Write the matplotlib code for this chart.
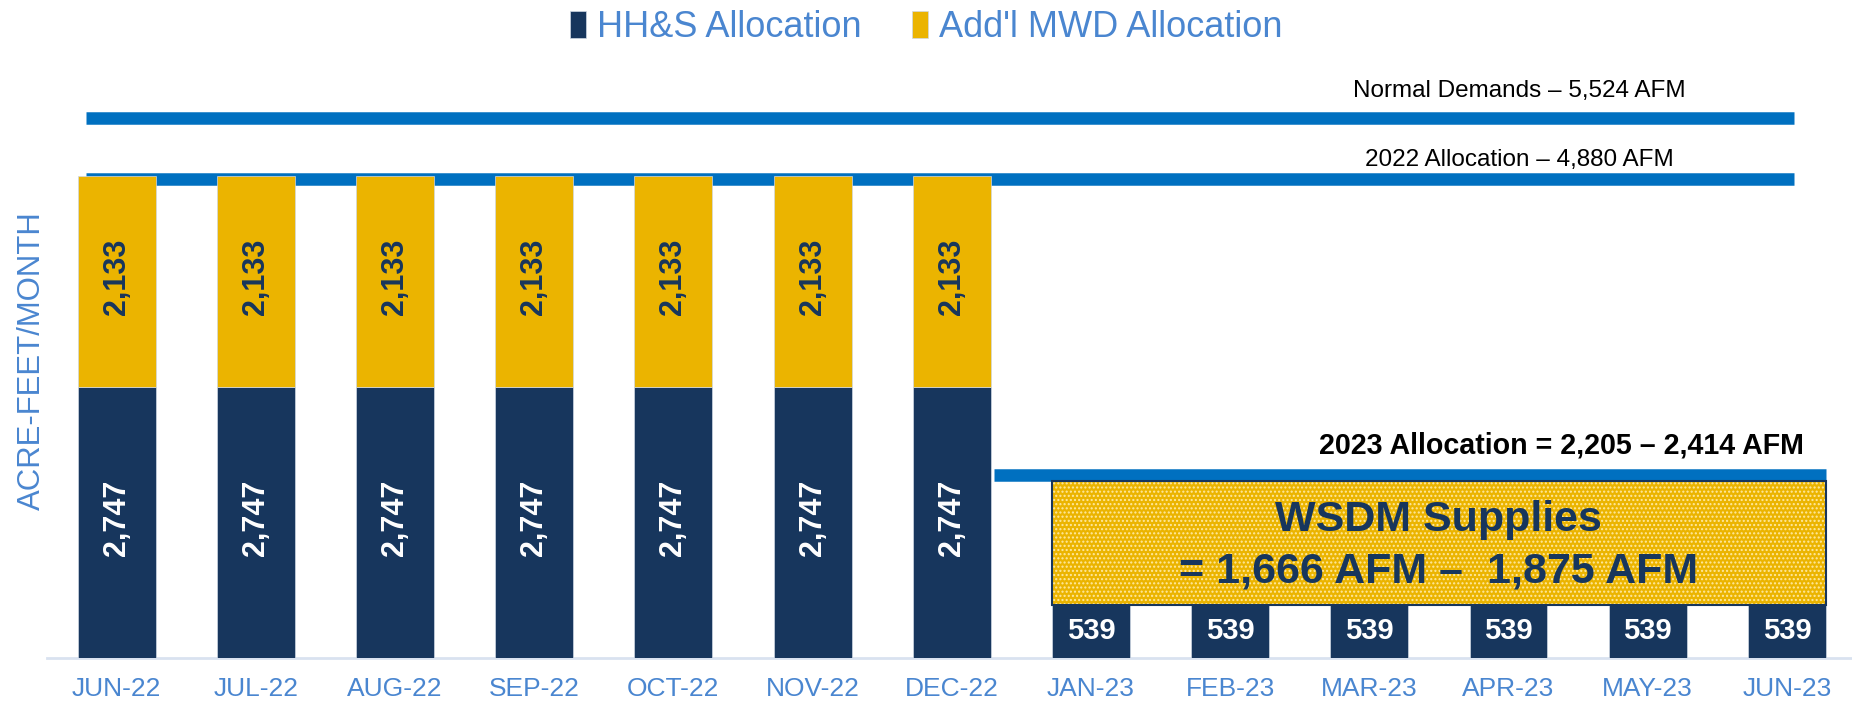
import numpy as np
import matplotlib.pyplot as plt
from matplotlib.patches import Rectangle

plt.rcParams['font.family'] = ['Liberation Sans', 'DejaVu Sans']

# Data
months = ["JUN-22", "JUL-22", "AUG-22", "SEP-22", "OCT-22", "NOV-22", "DEC-22",
          "JAN-23", "FEB-23", "MAR-23", "APR-23", "MAY-23", "JUN-23"]
hhs = [2747, 2747, 2747, 2747, 2747, 2747, 2747, 539, 539, 539, 539, 539, 539]
mwd = [2133, 2133, 2133, 2133, 2133, 2133, 2133, 0, 0, 0, 0, 0, 0]

normal_level = 5460      # line drawn for normal demands
alloc22_level = 4850     # line drawn for 2022 allocation
alloc23_level = 1850     # line drawn for 2023 allocation
wsdm_top = 1790          # top of the WSDM supplies box

navy = '#17365D'
gold = '#EBB400'
lineblue = '#0070C0'
textblue = '#4A86D0'

fig = plt.figure(figsize=(18.52, 7.05), dpi=100)
ax = fig.add_axes([0.0254, 0.0667, 0.974, 0.86])

x = np.arange(len(months))
w = 0.56
b1 = ax.bar(x, hhs, width=w, color=navy, edgecolor='#d0d8e4', linewidth=0.5, label="HH&S Allocation", zorder=3)
b2 = ax.bar(x, mwd, width=w, bottom=hhs, color=gold, edgecolor='#d0d8e4', linewidth=0.5, label="Add'l MWD Allocation", zorder=3)

# bar labels
for i in range(len(months)):
    if mwd[i] > 0:
        ax.text(x[i], hhs[i] / 2 + 40, f"{hhs[i]:,}", rotation=90, ha='center', va='center',
                color='white', fontsize=22, fontweight='bold', zorder=5)
        ax.text(x[i], hhs[i] + mwd[i] / 2 + 40, f"{mwd[i]:,}", rotation=90, ha='center', va='center',
                color=navy, fontsize=22, fontweight='bold', zorder=5)
    else:
        ax.text(x[i], hhs[i] / 2, f"{hhs[i]:,}", ha='center', va='center',
                color='white', fontsize=21, fontweight='bold', zorder=5)

# reference lines
ax.hlines(normal_level, -0.223, 12.05, color=lineblue, linewidth=9, capstyle='butt', zorder=2)
ax.hlines(alloc22_level, -0.223, 12.05, color=lineblue, linewidth=9, capstyle='butt', zorder=2)
ax.hlines(alloc23_level, 6.30, 12.28, color=lineblue, linewidth=9, capstyle='butt', zorder=4)

ax.text(10.08, 5740, "Normal Demands \u2013 5,524 AFM", ha='center', va='center', fontsize=17.5, color='black')
ax.text(10.08, 5035, "2022 Allocation \u2013 4,880 AFM", ha='center', va='center', fontsize=17.5, color='black')
ax.text(12.12, 2150, "2023 Allocation = 2,205 \u2013 2,414 AFM", ha='right', va='center',
        fontsize=20.6, fontweight='bold', color='black')

# WSDM supplies box
left = x[7] - w / 2
right = x[12] + w / 2
box = Rectangle((left, hhs[7]), right - left, wsdm_top - hhs[7], facecolor=gold,
                edgecolor='#FFE9A0', hatch='....', linewidth=0, zorder=3)
ax.add_patch(box)
ax.add_patch(Rectangle((left, hhs[7]), right - left, wsdm_top - hhs[7], facecolor='none',
                       edgecolor=navy, linewidth=1.5, zorder=4))
mid = (left + right) / 2
ax.text(mid, 1400, "WSDM Supplies", ha='center', va='center', fontsize=31, fontweight='bold', color=navy, zorder=5)
ax.text(mid, 880, "= 1,666 AFM \u2013  1,875 AFM", ha='center', va='center', fontsize=31, fontweight='bold', color=navy, zorder=5)

# axes styling
ax.set_xlim(-0.5, 12.46)
ax.set_ylim(0, 6135)
ax.set_xticks(x)
ax.set_xticklabels(months, fontsize=19, color=textblue)
ax.tick_params(axis='x', length=0, pad=14)
ax.set_yticks([])
for s in ['top', 'right', 'left']:
    ax.spines[s].set_visible(False)
ax.spines['bottom'].set_color('#D9E2F0')
ax.spines['bottom'].set_linewidth(2)

fig.text(0.017, 0.489, "ACRE-FEET/MONTH", rotation=90, ha='center', va='center', fontsize=22.4, color=textblue)

fig.legend(handles=[b1, b2], loc='upper center', bbox_to_anchor=(0.5, 1.032), ncol=2, frameon=False,
           fontsize=26, labelcolor=textblue, handlelength=0.45, handleheight=0.75,
           handletextpad=0.3, columnspacing=1.4)

fig.savefig("out.png", dpi=100)
